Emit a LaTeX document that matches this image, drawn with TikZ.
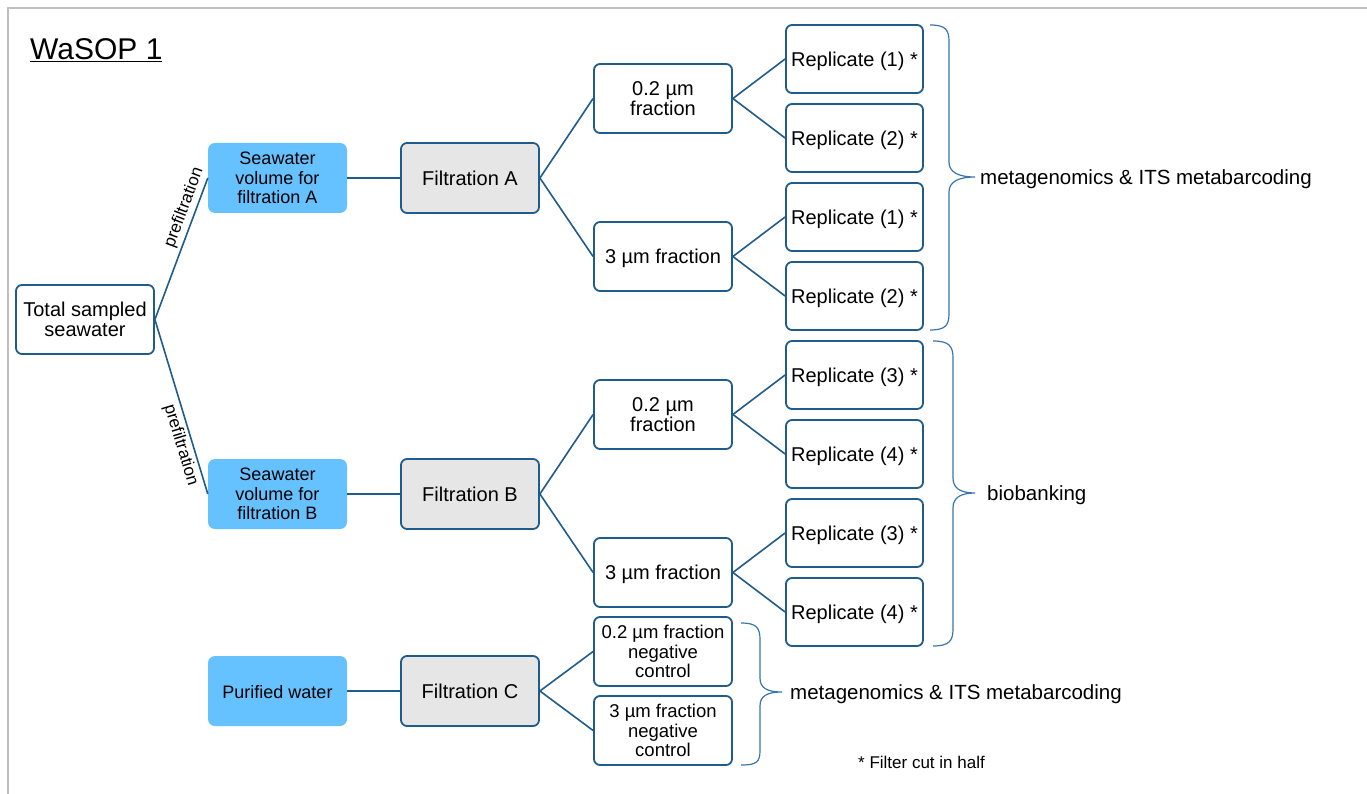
\documentclass[tikz,border=0pt]{standalone}
\usepackage{fontspec}
\setmainfont{Liberation Sans}
\definecolor{edgeblue}{HTML}{1F5C8C}
\definecolor{braceblue}{HTML}{3A75AD}
\definecolor{fillblue}{HTML}{66C2FF}
\definecolor{fillgray}{HTML}{E6E6E6}
\definecolor{framegray}{HTML}{BFBFBF}
\tikzset{
  box/.style={draw=edgeblue, line width=1.8pt, rounded corners=6pt, fill=white,
    align=center, inner sep=0pt, text=black},
  oneline/.style={text height=14.5pt, text depth=0pt},
  wbox/.style={box, minimum width=138pt, minimum height=69pt, font=\fontsize{20}{19.5}\selectfont},
  rbox/.style={box, oneline, minimum width=137pt, minimum height=68pt, font=\fontsize{20}{19.5}\selectfont},
  nbox/.style={box, minimum width=138pt, minimum height=69pt, font=\fontsize{18.5}{19.5}\selectfont},
  bluebox/.style={draw=none, fill=fillblue, rounded corners=7pt, minimum width=139pt, minimum height=70pt,
    align=center, inner sep=0pt, font=\fontsize{18}{19.5}\selectfont},
  graybox/.style={box, fill=fillgray, minimum width=138pt, minimum height=70pt, font=\fontsize{20}{19.5}\selectfont},
  conn/.style={draw=edgeblue, line width=1.6pt},
  bracepath/.style={draw=braceblue, line width=1.2pt},
  lbl/.style={anchor=base west, inner sep=0pt, font=\fontsize{20.5}{22}\selectfont},
  prelbl/.style={font=\fontsize{17}{18}\selectfont, sloped, inner sep=3pt}
}
\begin{document}
\begin{tikzpicture}[x=1pt,y=-1pt]
\useasboundingbox (0,0) rectangle (1367,794);
\fill[white] (0,0) rectangle (1367,794);
\draw[framegray, line width=2pt] (1400,8) -- (8,8) -- (8,820);

\node[anchor=base west, inner sep=0pt, font=\fontsize{30}{32}\selectfont] (title) at (30,60) {\underline{WaSOP 1}};

\node[wbox] (total) at (85,319.5) {Total sampled\\seawater};

\node[bluebox] (swa) at (277.5,178) {Seawater\\volume for\\filtration A};
\node[bluebox] (swb) at (277.5,494) {Seawater\\volume for\\filtration B};
\node[bluebox, oneline] (pw) at (277.5,691) {Purified water};

\node[graybox] (fa) at (470,178) {Filtration A};
\node[graybox] (fb) at (470,494) {Filtration B};
\node[graybox] (fc) at (470,691) {Filtration C};

\node[wbox] (a02) at (663,98.5) {0.2 µm\\fraction};
\node[wbox, oneline] (a3) at (663,256.5) {3 µm fraction};
\node[wbox] (b02) at (663,414.5) {0.2 µm\\fraction};
\node[wbox, oneline] (b3) at (663,572.5) {3 µm fraction};
\node[nbox] (c02) at (663,651.5) {0.2 µm fraction\\negative\\control};
\node[nbox] (c3) at (663,730.5) {3 µm fraction\\negative\\control};

\node[rbox] (r1) at (854.5,59) {Replicate (1) *};
\node[rbox] (r2) at (854.5,138) {Replicate (2) *};
\node[rbox] (r3) at (854.5,217) {Replicate (1) *};
\node[rbox] (r4) at (854.5,296) {Replicate (2) *};
\node[rbox] (r5) at (854.5,375) {Replicate (3) *};
\node[rbox] (r6) at (854.5,454) {Replicate (4) *};
\node[rbox] (r7) at (854.5,533) {Replicate (3) *};
\node[rbox] (r8) at (854.5,612) {Replicate (4) *};

% connectors
\draw[conn] (total.east) -- node[prelbl, above, pos=0.76] {prefiltration} (swa.west);
\draw[conn] (total.east) -- node[prelbl, below, pos=0.7] {prefiltration} (swb.west);
\draw[conn] (swa.east) -- (fa.west);
\draw[conn] (swb.east) -- (fb.west);
\draw[conn] (pw.east) -- (fc.west);
\draw[conn] (fa.east) -- (a02.west);
\draw[conn] (fa.east) -- (a3.west);
\draw[conn] (fb.east) -- (b02.west);
\draw[conn] (fb.east) -- (b3.west);
\draw[conn] (fc.east) -- (c02.west);
\draw[conn] (fc.east) -- (c3.west);
\draw[conn] (a02.east) -- (r1.west);
\draw[conn] (a02.east) -- (r2.west);
\draw[conn] (a3.east) -- (r3.west);
\draw[conn] (a3.east) -- (r4.west);
\draw[conn] (b02.east) -- (r5.west);
\draw[conn] (b02.east) -- (r6.west);
\draw[conn] (b3.east) -- (r7.west);
\draw[conn] (b3.east) -- (r8.west);

% braces
\draw[bracepath] (930,25) .. controls (946,25) and (949,30) .. (949,42) -- (949,162)
  .. controls (949,172) and (958,177) .. (975,177)
  .. controls (958,177) and (949,182) .. (949,192) -- (949,313)
  .. controls (949,325) and (946,330) .. (930,330);
\draw[bracepath] (933,341) .. controls (949,341) and (953,346) .. (953,358) -- (953,478)
  .. controls (953,488) and (960,493) .. (975,493)
  .. controls (960,493) and (953,498) .. (953,508) -- (953,629)
  .. controls (953,641) and (949,646) .. (933,646);
\draw[bracepath] (741,623) .. controls (757,623) and (760,628) .. (760,640) -- (760,678)
  .. controls (760,688) and (767,692) .. (782,692)
  .. controls (767,692) and (760,696) .. (760,706) -- (760,750)
  .. controls (760,762) and (757,765) .. (741,765);

\node[lbl] (l1) at (980,184.5) {metagenomics \& ITS metabarcoding};
\node[lbl] (l2) at (987,500.5) {biobanking};
\node[lbl] (l3) at (790,699.5) {metagenomics \& ITS metabarcoding};
\node[anchor=base west, inner sep=0pt, font=\fontsize{17}{19}\selectfont] (note) at (858,768) {* Filter cut in half};
\end{tikzpicture}
\end{document}
